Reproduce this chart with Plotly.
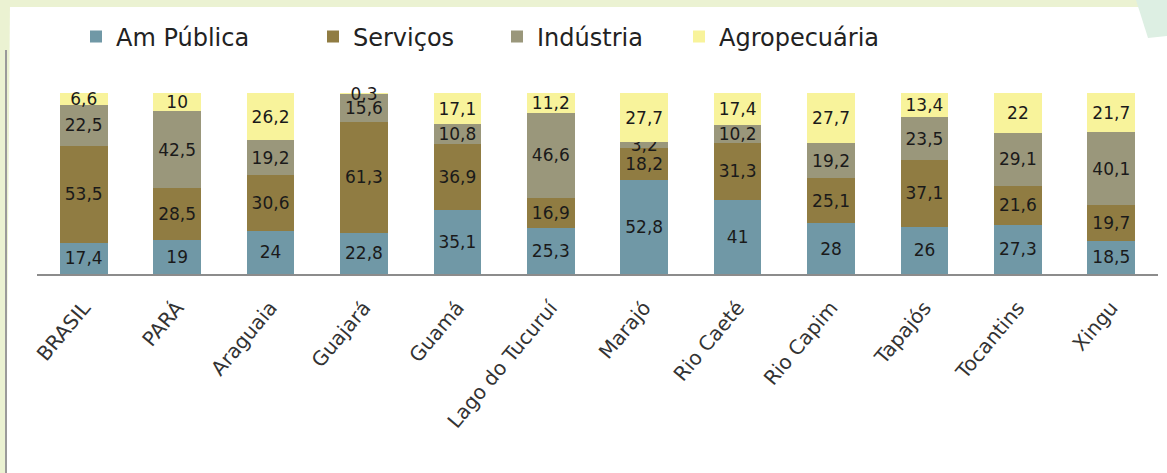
import plotly.graph_objects as go

categories = ["BRASIL", "PARÁ", "Araguaia", "Guajará", "Guamá", "Lago do Tucuruí",
              "Marajó", "Rio Caeté", "Rio Capim", "Tapajós", "Tocantins", "Xingu"]
am_publica = [17.4, 19, 24, 22.8, 35.1, 25.3, 52.8, 41, 28, 26, 27.3, 18.5]
servicos = [53.5, 28.5, 30.6, 61.3, 36.9, 16.9, 18.2, 31.3, 25.1, 37.1, 21.6, 19.7]
industria = [22.5, 42.5, 19.2, 15.6, 10.8, 46.6, 3.2, 10.2, 19.2, 23.5, 29.1, 40.1]
agropecuaria = [6.6, 10, 26.2, 0.3, 17.1, 11.2, 27.7, 17.4, 27.7, 13.4, 22, 21.7]

series_names = ["Am Pública", "Serviços", "Indústria", "Agropecuária"]
series_values = [am_publica, servicos, industria, agropecuaria]
series_colors = ["#7098A6", "#907C42", "#9A977B", "#F8F39B"]
legend_ids = ["legend", "legend2", "legend3", "legend4"]
legend_left_px = [76, 313, 497, 679]

totals = [sum(v) for v in zip(am_publica, servicos, industria, agropecuaria)]

def fmt(v):
    return f"{v:g}".replace(".", ",")

W, H = 1167, 473
L, R, T, B = 37, 9, 93, 199
PW, PH = W - L - R, H - T - B

FONT = "DejaVu Sans"

fig = go.Figure()
for name, vals, color, lid in zip(series_names, series_values, series_colors, legend_ids):
    fig.add_trace(go.Bar(
        name=name,
        x=categories,
        y=[round(v / t * 100, 6) for v, t in zip(vals, totals)],
        text=[fmt(v) for v in vals],
        textposition="inside",
        insidetextanchor="middle",
        textangle=0,
        textfont=dict(size=17, color="#1a1a1a", family=FONT),
        marker=dict(color=color, line=dict(width=0)),
        width=0.51,
        cliponaxis=False,
        hoverinfo="skip",
        legend=lid,
    ))

def px(x):
    return (x - L) / PW

def py(y):
    return (H - B - y) / PH

shapes = [
    dict(type="rect", xref="paper", yref="paper", x0=px(0), x1=px(W), y0=py(7), y1=py(0),
         fillcolor="#EBF2D2", line=dict(width=0), layer="below"),
    dict(type="path", xref="paper", yref="paper",
         path=f"M {px(0)},{py(0)} L {px(10)},{py(0)} L {px(6)},{py(H)} L {px(0)},{py(H)} Z",
         fillcolor="#EBF2D2", line=dict(width=0), layer="below"),
    dict(type="line", xref="paper", yref="paper", x0=px(6), x1=px(6), y0=py(50), y1=py(H),
         line=dict(color="#9a9a9a", width=2)),
    dict(type="path", xref="paper", yref="paper",
         path=f"M {px(1136)},{py(0)} L {px(W)},{py(0)} L {px(W)},{py(36)} L {px(1148)},{py(38)} Z",
         fillcolor="#DDEFE3", line=dict(width=0), layer="below"),
]

legend_cfg = {}
for lid, lx in zip(legend_ids, legend_left_px):
    legend_cfg[lid] = dict(
        orientation="h", xref="container", yref="container",
        x=lx / W, y=1 - 37 / H, xanchor="left", yanchor="middle",
        font=dict(size=24, color="#222", family=FONT),
        itemwidth=30, bgcolor="rgba(0,0,0,0)",
    )

fig.update_layout(
    width=W, height=H,
    barmode="stack",
    margin=dict(l=L, r=R, t=T, b=B, autoexpand=False),
    paper_bgcolor="white",
    plot_bgcolor="white",
    font=dict(family=FONT, color="#222"),
    showlegend=True,
    uniformtext=dict(minsize=17, mode="show"),
    shapes=shapes,
    xaxis=dict(tickangle=-50, tickfont=dict(size=20, color="#333", family=FONT),
               ticklabelstandoff=12,
               showline=True, linecolor="#8c8c8c", linewidth=2, ticks="",
               showgrid=False, range=[-0.5, 11.5], automargin=False),
    yaxis=dict(range=[0, 100.01], visible=False, showgrid=False, automargin=False),
    **legend_cfg,
)

fig.write_html(
    "out.html",
    config={"displayModeBar": False},
    post_script="document.body.style.margin='0';document.body.style.padding='0';document.body.style.overflow='hidden';",
)
